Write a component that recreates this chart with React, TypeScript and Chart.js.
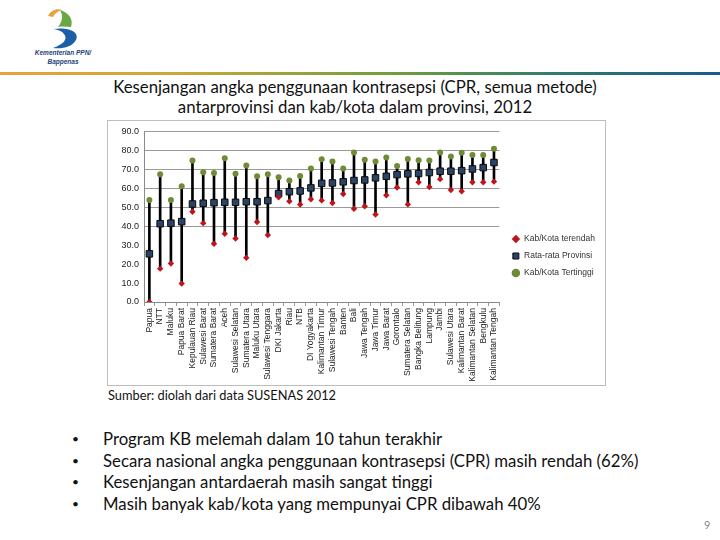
import React, { useEffect, useRef } from "react";
import { Chart, registerables } from "chart.js";

Chart.register(...registerables);

const provinces = [
  "Papua", "NTT", "Maluku", "Papua Barat", "Kepulauan Riau", "Sulawesi Barat",
  "Sumatera Barat", "Aceh", "Sulawesi Selatan", "Sumatera Utara", "Maluku Utara",
  "Sulawesi Tenggara", "DKI Jakarta", "Riau", "NTB", "DI Yogyakarta",
  "Kalimantan Timur", "Sulawesi Tengah", "Banten", "Bali", "Jawa Tengah",
  "Jawa Timur", "Jawa Barat", "Gorontalo", "Sumatera Selatan", "Bangka Belitung",
  "Lampung", "Jambi", "Sulawesi Utara", "Kalimantan Barat", "Kalimantan Selatan",
  "Bengkulu", "Kalimantan Tengah",
];

const lowVals = [
  0.0, 17.6, 20.3, 9.7, 47.6, 41.6, 30.7, 36.0, 33.5, 23.3, 42.2, 35.3, 55.2,
  53.1, 51.4, 54.2, 53.6, 52.2, 57.0, 49.2, 50.5, 46.2, 56.3, 60.4, 51.5, 63.2,
  60.7, 64.8, 59.1, 58.4, 63.2, 63.2, 63.5,
];

const meanVals = [
  25.4, 41.3, 41.6, 42.4, 51.7, 52.1, 52.4, 52.6, 52.6, 52.9, 52.9, 53.5, 57.2,
  58.2, 58.6, 60.2, 62.6, 62.8, 63.4, 64.1, 64.4, 65.5, 66.3, 67.2, 67.6, 67.8,
  68.3, 69.0, 69.0, 69.3, 70.2, 70.9, 73.6,
];

const highVals = [
  53.8, 67.4, 53.8, 61.1, 74.6, 68.5, 68.1, 75.9, 67.6, 72.0, 66.4, 67.4, 65.8,
  64.1, 66.5, 70.4, 75.3, 74.1, 70.4, 78.9, 75.0, 74.1, 76.2, 71.8, 75.5, 74.8,
  74.6, 78.9, 76.8, 78.7, 77.6, 77.5, 80.8,
];

const seriesNames = ["Kab/Kota terendah", "Rata-rata Provinsi", "Kab/Kota Tertinggi"];

const titleLines = [
  "Kesenjangan angka penggunaan kontrasepsi (CPR, semua metode)",
  "antarprovinsi dan kab/kota dalam provinsi, 2012",
];

const sourceText = "Sumber: diolah dari data SUSENAS 2012";

const bullets = [
  "Program KB melemah dalam 10 tahun terakhir",
  "Secara nasional angka penggunaan kontrasepsi (CPR) masih rendah (62%)",
  "Kesenjangan antardaerah masih sangat tinggi",
  "Masih banyak kab/kota yang mempunyai CPR dibawah 40%",
];

const slideFont = "Lato, 'Open Sans', sans-serif";
const chartFont = "'Liberation Sans', Arial, sans-serif";

function RangeChart() {
  const ref = useRef<HTMLCanvasElement | null>(null);
  useEffect(() => {
    if (!ref.current) return;
    const chart = new Chart(ref.current, {
      type: "bar",
      data: {
        labels: provinces,
        datasets: [
          {
            type: "line",
            label: seriesNames[0],
            data: lowVals,
            showLine: false,
            pointStyle: "rectRot",
            pointRadius: 3.2,
            backgroundColor: "#C0141C",
            borderColor: "#C0141C",
            borderWidth: 0,
            order: 1,
          } as any,
          {
            type: "line",
            label: seriesNames[1],
            data: meanVals,
            showLine: false,
            pointStyle: "rect",
            pointRadius: 4.6,
            backgroundColor: "#2A4468",
            borderColor: "#0A0A0A",
            borderWidth: 1,
            order: 2,
          } as any,
          {
            type: "line",
            label: seriesNames[2],
            data: highVals,
            showLine: false,
            pointStyle: "circle",
            pointRadius: 3,
            backgroundColor: "#6E8B35",
            borderColor: "#6E8B35",
            borderWidth: 0,
            order: 3,
          } as any,
          {
            type: "bar",
            label: "range",
            data: provinces.map((_, i) => [lowVals[i], highVals[i]]),
            backgroundColor: "#000000",
            barThickness: 2,
            order: 4,
          } as any,
        ],
      },
      options: {
        animation: false,
        responsive: false,
        devicePixelRatio: 1,
        layout: { padding: { top: 6, right: 0, left: 0, bottom: 0 } },
        plugins: {
          tooltip: { enabled: false },
          legend: {
            position: "right",
            maxWidth: 130,
            labels: {
              filter: (item: any) => item.text !== "range",
              usePointStyle: true,
              boxWidth: 8,
              boxHeight: 6,
              padding: 8.5,
              color: "#333333",
              font: { family: chartFont, size: 8.5 },
            },
          },
        },
        scales: {
          x: {
            offset: true,
            afterFit: (s: any) => { s.height = 83; },
            grid: {
              display: true,
              drawOnChartArea: false,
              drawTicks: true,
              tickLength: 4,
              color: "#9a9a9a",
              offset: true,
            },
            border: { display: true, color: "#8a8a8a" },
            ticks: {
              autoSkip: false,
              minRotation: 90,
              maxRotation: 90,
              padding: 2,
              color: "#222222",
              font: { family: chartFont, size: 8.5 },
            },
          },
          y: {
            min: 0,
            max: 90,
            afterFit: (s: any) => { s.width = 36; },
            grid: {
              drawTicks: false,
              color: (ctx: any) => (ctx.tick && ctx.tick.value >= 40 ? "#9a9a9a" : "rgba(0,0,0,0)"),
            },
            border: { display: true, color: "#8a8a8a" },
            ticks: {
              stepSize: 10,
              padding: 5,
              color: "#222222",
              font: { family: chartFont, size: 9 },
              callback: (v: any) => Number(v).toFixed(1),
            },
          },
          gap: {
            type: "linear",
            position: "right",
            display: true,
            grid: { display: false, drawTicks: false },
            border: { display: false },
            ticks: { display: false },
            afterFit: (s: any) => { s.width = 4; },
          },
        },
      } as any,
    });
    return () => chart.destroy();
  }, []);
  return <canvas ref={ref} width={497} height={264} style={{ display: "block" }} />;
}

function Logo() {
  return (
    <div style={{ position: "absolute", left: 20, top: 4, width: 80, height: 62 }}>
      <svg width="80" height="46" viewBox="0 0 80 46" style={{ position: "absolute", left: 0, top: 0 }}>
        <path d="M28 12 C31 6, 37 4, 42 6 C38 7, 35 9, 33 13 Z" fill="#E8A23A" />
        <path d="M40 6 C48 8, 54 15, 51 23 C47 23, 43 22, 38 23 C43 17, 43 11, 40 6 Z" fill="#6AA842" />
        <path d="M34 25 C47 23, 60 27, 56 36 C52 43, 43 45, 33 44 C44 40, 48 35, 44 30 C42 27, 38 26, 34 25 Z" fill="#1C5EA8" />
      </svg>
      <div style={{ position: "absolute", left: 8, top: 44, width: 70, textAlign: "center", fontFamily: "'Liberation Sans', Arial, sans-serif", fontSize: 6.5, fontWeight: "bold", fontStyle: "italic", color: "#1B3F7A", lineHeight: "9px" }}>
        Kementerian PPN/<br />Bappenas
      </div>
    </div>
  );
}

export default function App() {
  return (
    <div style={{ position: "fixed", left: 0, top: 0, width: 720, height: 540, background: "#ffffff", overflow: "hidden" }}>
      <Logo />
      <div style={{ position: "absolute", left: 0, top: 72, width: 720, height: 3, background: "linear-gradient(to right, #E8A23A 0%, #C9A83A 25%, #6E9E3C 55%, #2E7A6E 78%, #1A5A8C 100%)" }} />
      <div style={{ position: "absolute", left: 60, top: 77, width: 590, textAlign: "center", fontFamily: slideFont, fontSize: 16.8, lineHeight: "20px", color: "#111111" }}>
        {titleLines.map((t, i) => <div key={i} style={{ whiteSpace: "nowrap" }}>{t}</div>)}
      </div>
      <div style={{ position: "absolute", left: 107, top: 120, border: "1px solid #bdbdbd", width: 497, height: 264 }}>
        <RangeChart />
      </div>
      <div style={{ position: "absolute", left: 108, top: 387, fontFamily: slideFont, fontSize: 12.8, color: "#111111", whiteSpace: "nowrap" }}>
        {sourceText}
      </div>
      <div style={{ position: "absolute", left: 72, top: 428, fontFamily: slideFont, fontSize: 16.75, color: "#111111" }}>
        {bullets.map((b, i) => (
          <div key={i} style={{ display: "flex", height: 21.5, alignItems: "center", whiteSpace: "nowrap" }}>
            <span style={{ width: 31, fontSize: 12 }}>•</span>
            <span>{b}</span>
          </div>
        ))}
      </div>
      <div style={{ position: "absolute", left: 704, top: 518, fontFamily: slideFont, fontSize: 11, color: "#8a8a8a" }}>9</div>
    </div>
  );
}
